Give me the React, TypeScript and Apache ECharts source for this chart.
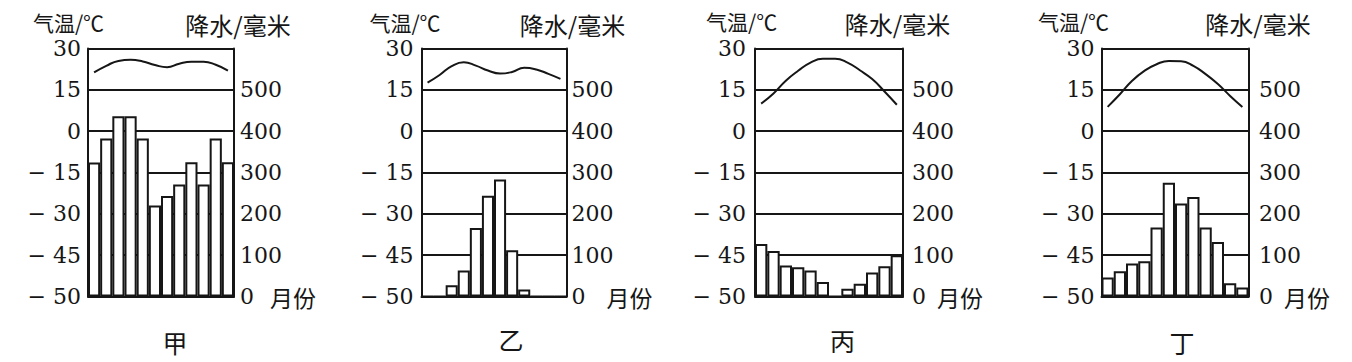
import React, { useEffect, useRef } from "react";
import * as echarts from "echarts";

// ---- data ----
const months = ["1", "2", "3", "4", "5", "6", "7", "8", "9", "10", "11", "12"];
const panelNames = ["甲", "乙", "丙", "丁"];

const precipJia = [324, 382, 436, 436, 382, 220, 243, 271, 325, 271, 382, 325];
const tempJia = [21.3, 23.7, 25.5, 25.9, 25.3, 24.0, 23.2, 24.5, 25.2, 25.2, 24.1, 22.0];

const precipYi = [0, 0, 27, 63, 166, 244, 283, 112, 17, 0, 0, 0];
const tempYi = [17.6, 20.4, 23.6, 25.0, 23.8, 22.0, 20.9, 21.5, 23.0, 22.4, 20.8, 19.0];

const precipBing = [127, 110, 75, 71, 63, 35, 0, 19, 31, 58, 73, 100];
const tempBing = [10.0, 13.7, 18.3, 21.9, 24.9, 26.3, 26.3, 24.9, 22.1, 18.9, 14.4, 9.6];

const precipDing = [46, 61, 80, 85, 167, 275, 225, 241, 167, 132, 32, 22];
const tempDing = [8.8, 13.4, 18.3, 21.9, 24.3, 25.5, 25.4, 23.7, 20.7, 17.1, 12.8, 8.8];

const tempTickValues = [-60, -45, -30, -15, 0, 15, 30];
const tempTickLabels = ["− 50", "− 45", "− 30", "− 15", "0", "15", "30"];
const precipTickLabels = ["0", "100", "200", "300", "400", "500", ""];

const tempAxisName = "气温/℃";
const precipAxisName = "降水/毫米";
const monthAxisName = "月份";

const precipSeries = [precipJia, precipYi, precipBing, precipDing];
const tempSeries = [tempJia, tempYi, tempBing, tempDing];

// ---- layout ----
const layout = [
  { left: 88, width: 146, lm: 7, rm: 6, mGap: 36, tx: 68.5, px: 238, ny: 22, py: 24, titleX: 175, titleY: 342 },
  { left: 421.5, width: 145, lm: 8, rm: 5, mGap: 40, tx: 405, px: 572.5, ny: 22, py: 24, titleX: 511, titleY: 339 },
  { left: 755, width: 148, lm: 9, rm: 9, mGap: 34, tx: 741.7, px: 897.5, ny: 21, py: 23, titleX: 842.5, titleY: 340 },
  { left: 1101.5, width: 147, lm: 7, rm: 10.5, mGap: 35.5, tx: 1073.5, px: 1258, ny: 21, py: 23, titleX: 1182, titleY: 341.5 },
];

const INK = "#161616";
const SERIF = "DejaVu Serif";
const CJK = "Noto Sans CJK SC";

export default function App() {
  const ref = useRef<HTMLDivElement>(null);

  useEffect(() => {
    document.body.style.margin = "0";
    if (!ref.current) return;
    const chart = echarts.init(ref.current, null, { renderer: "svg" });

    const grid: any[] = [];
    const xAxis: any[] = [];
    const yAxis: any[] = [];
    const series: any[] = [];
    const graphic: any[] = [];

    const nameText = (text: string, x: number, y: number, size: number) => ({
      type: "text",
      x,
      y,
      style: {
        text,
        fontFamily: CJK,
        fontSize: size,
        fill: INK,
        align: "center",
        verticalAlign: "middle",
        textAlign: "center",
        textVerticalAlign: "middle",
      },
    });

    layout.forEach((p, i) => {
      grid.push({ left: p.left, top: 48.5, width: p.width, height: 248 });
      xAxis.push({
        type: "category",
        gridIndex: i,
        data: months,
        boundaryGap: true,
        axisLine: { show: true, onZero: false, lineStyle: { color: INK, width: 2 } },
        axisTick: { show: false },
        axisLabel: { show: false },
        name: monthAxisName,
        nameLocation: "end",
        nameGap: p.mGap,
        nameTextStyle: {
          fontFamily: CJK,
          fontSize: 23,
          color: INK,
          verticalAlign: "middle",
          padding: [0, 0, 6, 0],
        },
      });
      yAxis.push({
        type: "value",
        gridIndex: i,
        min: -60,
        max: 30,
        interval: 15,
        position: "left",
        axisLine: { show: true, lineStyle: { color: INK, width: 2 } },
        axisTick: { show: false },
        splitLine: { show: true, lineStyle: { color: INK, width: 2 } },
        axisLabel: {
          margin: p.lm,
          fontFamily: SERIF,
          fontSize: 22,
          color: INK,
          formatter: (v: number) => {
            const k = tempTickValues.indexOf(v);
            return k >= 0 ? tempTickLabels[k] : "";
          },
        },
      });
      yAxis.push({
        type: "value",
        gridIndex: i,
        min: 0,
        max: 600,
        interval: 100,
        position: "right",
        axisLine: { show: true, lineStyle: { color: INK, width: 2 } },
        axisTick: { show: false },
        splitLine: { show: false },
        axisLabel: {
          margin: p.rm,
          fontFamily: SERIF,
          fontSize: 22,
          color: INK,
          formatter: (v: number) => precipTickLabels[Math.round(v / 100)] ?? "",
        },
      });
      series.push({
        type: "bar",
        xAxisIndex: i,
        yAxisIndex: i * 2 + 1,
        data: precipSeries[i],
        barCategoryGap: 0,
        itemStyle: { color: "#ffffff", borderColor: INK, borderWidth: 2 },
        z: 2,
      });
      series.push({
        type: "line",
        xAxisIndex: i,
        yAxisIndex: i * 2,
        data: tempSeries[i],
        smooth: 0.5,
        symbol: "none",
        lineStyle: { color: INK, width: 2 },
        z: 3,
      });
      graphic.push(nameText(tempAxisName, p.tx, p.ny, 21));
      graphic.push(nameText(precipAxisName, p.px, p.py, 24));
      graphic.push(nameText(panelNames[i], p.titleX, p.titleY, 25));
    });

    chart.setOption({
      animation: false,
      backgroundColor: "#ffffff",
      textStyle: { fontFamily: SERIF },
      grid,
      xAxis,
      yAxis,
      series,
      graphic,
    });

    return () => chart.dispose();
  }, []);

  return <div ref={ref} style={{ width: 1352, height: 362 }} />;
}
